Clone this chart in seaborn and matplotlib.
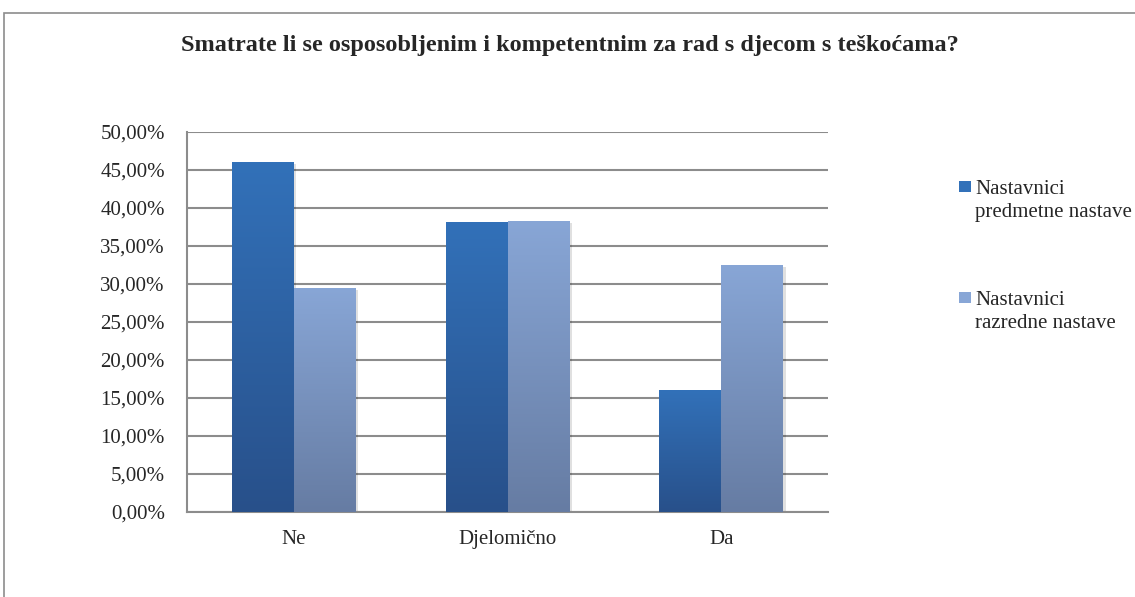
import numpy as np
import pandas as pd
import matplotlib
matplotlib.use("Agg")
import matplotlib.pyplot as plt
import seaborn as sns
from matplotlib.patches import Rectangle
from matplotlib.colors import LinearSegmentedColormap
from matplotlib.ticker import FuncFormatter

# Data
categories = ["Ne", "Djelomično", "Da"]
series_names = ["Nastavnici\npredmetne nastave", "Nastavnici\nrazredne nastave"]
predmetne = [46.0, 38.2, 16.0]
razredne = [29.5, 38.3, 32.5]

df = pd.DataFrame({
    "Odgovor": categories * 2,
    "Skupina": [series_names[0]] * 3 + [series_names[1]] * 3,
    "Postotak": predmetne + razredne,
})

sns.set_style("white")
plt.rcParams["font.family"] = ["Liberation Serif", "DejaVu Serif"]

# gradient colours (top, bottom)
grad = {
    series_names[0]: ("#3271b9", "#28508a"),
    series_names[1]: ("#88a6d6", "#667ca3"),
}
base = [grad[s][0] for s in series_names]

W, H = 1135, 597
fig = plt.figure(figsize=(W / 100, H / 100), dpi=100)
ax = fig.add_axes([187 / W, 1 - 512 / H, (828 - 187) / W, (512 - 132) / H])

sns.barplot(data=df, x="Odgovor", y="Postotak", hue="Skupina", order=categories,
            hue_order=series_names, palette=base, width=0.58, gap=0,
            saturation=1, ax=ax, legend=False, zorder=3)

# gradient fill + faint shadow on each bar
for i, patch in enumerate(ax.patches):
    s = series_names[i // 3]
    x0, y0 = patch.get_x(), patch.get_y()
    w, h = patch.get_width(), patch.get_height()
    sh = Rectangle((x0 + 0.012, y0), w, h - 0.25, facecolor="#000000", alpha=0.12,
                   edgecolor="none", zorder=2)
    ax.add_patch(sh)
    cmap = LinearSegmentedColormap.from_list("g", [grad[s][1], grad[s][0]])
    img = ax.imshow(np.linspace(0, 1, 256).reshape(-1, 1), cmap=cmap, origin="lower",
                    extent=[x0, x0 + w, y0, y0 + h], aspect="auto", zorder=4)
    img.set_clip_path(patch)
    patch.set_edgecolor("none")

ax.set_xlim(-0.5, 2.5)
ax.set_ylim(0, 50)
ax.set_yticks(np.arange(0, 51, 5))
ax.yaxis.set_major_formatter(FuncFormatter(lambda v, p: f"{v:.2f}%".replace(".", ",")))
ax.grid(axis="y", color="#8c8c8c", linewidth=1.5, zorder=0)
ax.set_axisbelow(True)
for sp in ["top", "right"]:
    ax.spines[sp].set_visible(False)
for sp in ["left", "bottom"]:
    ax.spines[sp].set_color("#8c8c8c")
    ax.spines[sp].set_linewidth(1.5)
ax.tick_params(axis="y", length=0, labelsize=15, pad=16)
ax.tick_params(axis="x", length=0, labelsize=15, pad=13)
ax.set_xlabel("")
ax.set_ylabel("")

fig.text(0.5 + 2 / W, 1 - 45 / H,
         "Smatrate li se osposobljenim i kompetentnim za rad s djecom s teškoćama?",
         ha="center", va="center", fontsize=17.5, fontweight="bold")

# legend drawn by hand: square marker + two-line label
for k, s in enumerate(series_names):
    top = 181 + k * 111
    fig.add_artist(Rectangle((959 / W, 1 - (top + 11) / H), 12 / W, 11 / H,
                             transform=fig.transFigure, facecolor=grad[s][0],
                             edgecolor="none"))
    fig.text(975 / W, 1 - (top - 1) / H, s, ha="left", va="top", fontsize=15,
             linespacing=1.3)

# outer chart frame
fig.add_artist(Rectangle((4 / W, -0.05), 1.2, 1.05 - 13 / H, transform=fig.transFigure,
                         facecolor="none", edgecolor="#8c8c8c", linewidth=1.2))

fig.savefig("out.png", dpi=100)
